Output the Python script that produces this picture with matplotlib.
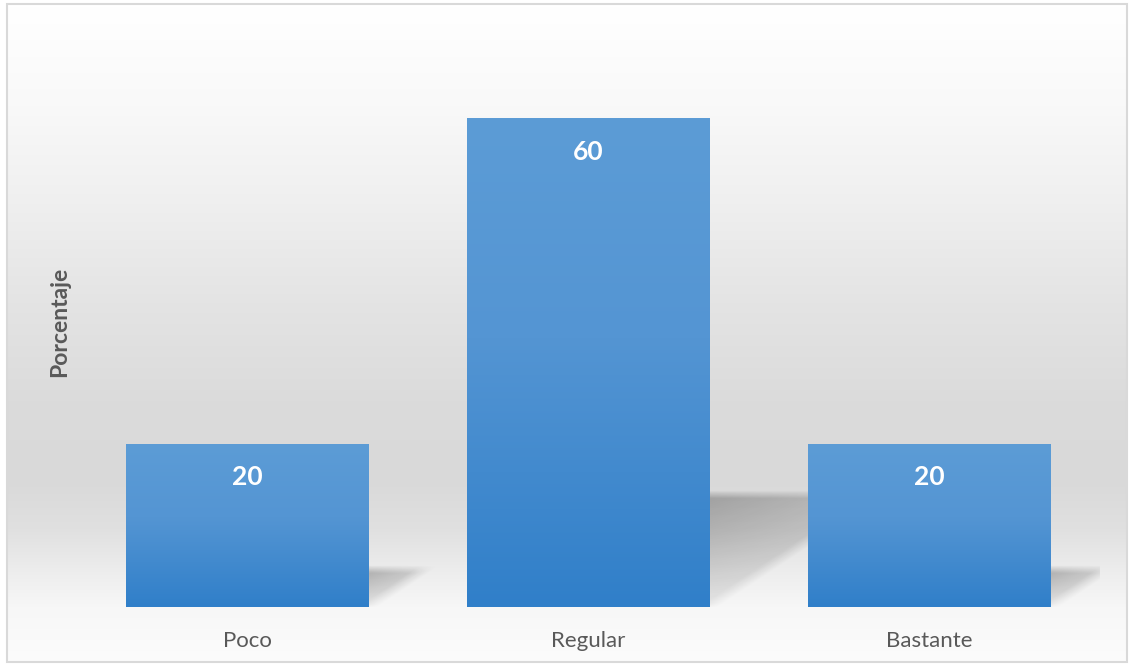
import numpy as np
import matplotlib
matplotlib.use("Agg")
import matplotlib.pyplot as plt
from matplotlib.patches import Rectangle

categorias = ["Poco", "Regular", "Bastante"]
porcentajes = [20, 60, 20]
etiquetas = ["20", "60", "20"]

W, H = 1130, 666
fig = plt.figure(figsize=(W / 100, H / 100), dpi=100)
fig.patch.set_facecolor("white")
plt.rcParams["font.family"] = ["Lato", "DejaVu Sans"]

# fondo degradado (blanco - gris - blanco)
bg = fig.add_axes([7 / W, 4 / H, 1120 / W, 655 / H])
ypx = np.array([0, 100, 200, 300, 400, 480, 530, 570, 610, 666])
gris = np.array([255, 249, 239, 228, 219, 217, 224, 236, 247, 252]) / 255
filas = np.interp(np.arange(H), ypx, gris)
bg.imshow(np.repeat(filas[:, None, None], 3, axis=2), aspect="auto",
          extent=(0, 1, 0, 1), interpolation="bilinear")
bg.set_axis_off()

# marco
fig.patches.append(Rectangle((7 / W, 4 / H), 1120 / W, 658 / H, transform=fig.transFigure,
                             fill=False, edgecolor="#d9d9d9", linewidth=1.5))

ax = fig.add_axes([76.5 / W, 1 - 607 / H, 1023 / W, 570 / H])
ax.set_facecolor("none")
x = np.arange(len(categorias))
ancho = 0.71
ymax = 70
px_x = 1023 / 3.0
px_y = 570 / ymax

barras = ax.bar(x, porcentajes, width=ancho, color="none", edgecolor="none", zorder=3)

# degradado de cada barra
stops = np.array([0.0, 0.45, 1.0])
cols = np.array([[92, 156, 214], [84, 149, 211], [48, 127, 201]]) / 255
t = np.linspace(0, 1, 256)
grad = np.stack([np.interp(t, stops, cols[:, k]) for k in range(3)], axis=1)[:, None, :]
for b in barras:
    x0, y0 = b.get_x(), b.get_y()
    im = ax.imshow(grad, extent=(x0, x0 + b.get_width(), y0, y0 + b.get_height()),
                   aspect="auto", interpolation="bilinear", zorder=3)
    im.set_clip_path(b)

# sombra en perspectiva
k = 1.5
for b, h in zip(barras, porcentajes):
    hs_px = 0.23 * h * px_y
    xl = b.get_x() * px_x
    xr = (b.get_x() + b.get_width()) * px_x
    xe = xr + hs_px * k + 24
    ye = hs_px + 12
    X, U = np.meshgrid(np.linspace(xl, xe, 300), np.linspace(ye, 0, 150))
    def s(d, bw):
        return np.clip(d / bw + 0.5, 0, 1)
    dentro = (s(hs_px - U, 8) * s(U, 4) * s(X - (xl + U * k), 18)
              * s((xr + U * k) - X, 20))
    fuerza = 0.27 * (0.25 + 0.75 * np.clip(U / hs_px, 0, 1))
    fade = 1 - 0.5 * np.clip((X - xr) / (hs_px * k + 1), 0, 1)
    rgba = np.zeros(X.shape + (4,))
    rgba[..., 3] = dentro * fuerza * fade
    ax.imshow(rgba, extent=(xl / px_x, xe / px_x, 0, ye / px_y), aspect="auto",
              interpolation="bilinear", zorder=2)

for xi, v, lab in zip(x, porcentajes, etiquetas):
    ax.annotate(lab, (xi, v), xytext=(0, -24), textcoords="offset points",
                ha="center", va="center", color="white", fontsize=19,
                fontweight="bold", zorder=4)

ax.set_xlim(-0.5, 2.5)
ax.set_ylim(0, ymax)
ax.set_xticks(x)
ax.set_xticklabels(categorias, fontsize=16, color="#595959")
ax.tick_params(axis="x", length=0, pad=17)
ax.set_yticks([])
for sp in ax.spines.values():
    sp.set_visible(False)
ax.set_ylabel("Porcentaje", fontsize=16.5, fontweight="bold", color="#595959", va="center")
ax.yaxis.set_label_coords(-16.5 / 1023, 0.5)

fig.savefig("out.png", dpi=100)
